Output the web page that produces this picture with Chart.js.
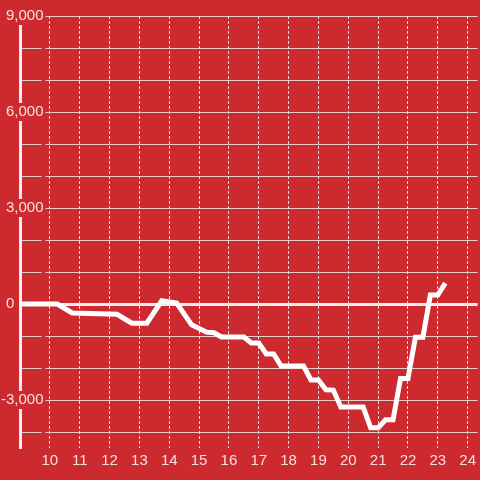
<!DOCTYPE html>
<html>
<head>
<meta charset="utf-8">
<script src="https://cdn.jsdelivr.net/npm/chart.js@4/dist/chart.umd.min.js"></script>
<style>
html, body { margin: 0; padding: 0; background: #cc2a2f; }
#wrap { width: 480px; height: 480px; }
</style>
</head>
<body>
<div id="wrap"><canvas id="chart" width="480" height="480"></canvas></div>
<script>
// 数据 (小时, 数值)
const hours = [9, 10.25, 10.75, 12.25, 12.75, 13.25, 13.75, 14.25, 14.75, 15.25, 15.5, 15.75,
    16.5, 16.75, 17, 17.25, 17.5, 17.75, 18.5, 18.75, 19, 19.25, 19.5, 19.75, 20.5,
    20.75, 21, 21.25, 21.5, 21.75, 22, 22.25, 22.5, 22.75, 23, 23.25];
const values = [0, 0, -280, -320, -600, -600, 100, 30, -650, -880, -900, -1030,
    -1030, -1220, -1220, -1560, -1560, -1940, -1940, -2375, -2375, -2680, -2690, -3220, -3220,
    -3870, -3870, -3620, -3620, -2330, -2330, -1040, -1040, 280, 280, 650];

// 刻度
const xTicks = [10, 11, 12, 13, 14, 15, 16, 17, 18, 19, 20, 21, 22, 23, 24];
const yTicks = [-4000, -3000, -2000, -1000, 0, 1000, 2000, 3000, 4000, 5000, 6000, 7000, 8000, 9000];
const yLabelStep = 3000;   // 每 3000 显示一个刻度标签

const xRange = [9, 24.333];
const yRange = [-4500, 9000];

const bg = '#cc2a2f';
const labelColor = 'rgba(255,255,255,0.85)';

const points = hours.map((h, i) => ({ x: h, y: values[i] }));

new Chart(document.getElementById('chart'), {
    type: 'line',
    data: {
        datasets: [{
            data: points,
            borderColor: '#ffffff',
            borderWidth: 5,
            pointRadius: 0,
            tension: 0,
            fill: false
        }]
    },
    options: {
        responsive: false,
        animation: false,
        devicePixelRatio: 1,
        layout: { padding: { top: 16, right: 0, bottom: 0, left: 0 } },
        plugins: {
            legend: { display: false },
            tooltip: { enabled: false }
        },
        scales: {
            x: {
                type: 'linear',
                min: xRange[0],
                max: xRange[1],
                afterFit: s => { s.height = 32; },
                afterBuildTicks: s => { s.ticks = xTicks.map(v => ({ value: v })); },
                ticks: {
                    autoSkip: false,
                    maxRotation: 0,
                    padding: 4,
                    color: labelColor,
                    font: { family: 'Liberation Sans', size: 15 },
                    callback: v => String(v)
                },
                grid: {
                    color: 'rgba(255,255,255,0.8)',
                    lineWidth: 1,
                    drawTicks: false
                },
                border: { display: false, dash: [3, 2] }
            },
            y: {
                position: 'left',
                min: yRange[0],
                max: yRange[1],
                afterFit: s => { s.width = 20; },
                afterBuildTicks: s => { s.ticks = yTicks.map(v => ({ value: v })); },
                ticks: {
                    autoSkip: false,
                    mirror: true,
                    crossAlign: 'far',
                    padding: -19,
                    color: labelColor,
                    font: { family: 'Liberation Sans', size: 15 },
                    showLabelBackdrop: ctx => ctx.tick.value !== 0,
                    backdropColor: bg,
                    backdropPadding: { top: 0, bottom: 0, left: 2, right: 2 },
                    callback: v => {
                        if (v % yLabelStep !== 0) return '';
                        if (v === 0) return '0       ';
                        return v.toLocaleString('en-US');
                    }
                },
                grid: {
                    color: ctx => (ctx.tick && ctx.tick.value === 0 ? '#eeeeee' : 'rgba(235,235,235,0.85)'),
                    lineWidth: ctx => (ctx.tick && ctx.tick.value === 0 ? 3 : 1),
                    drawTicks: false
                },
                border: { display: true, color: '#eeeeee', width: 3 }
            }
        }
    }
});
</script>
</body>
</html>
